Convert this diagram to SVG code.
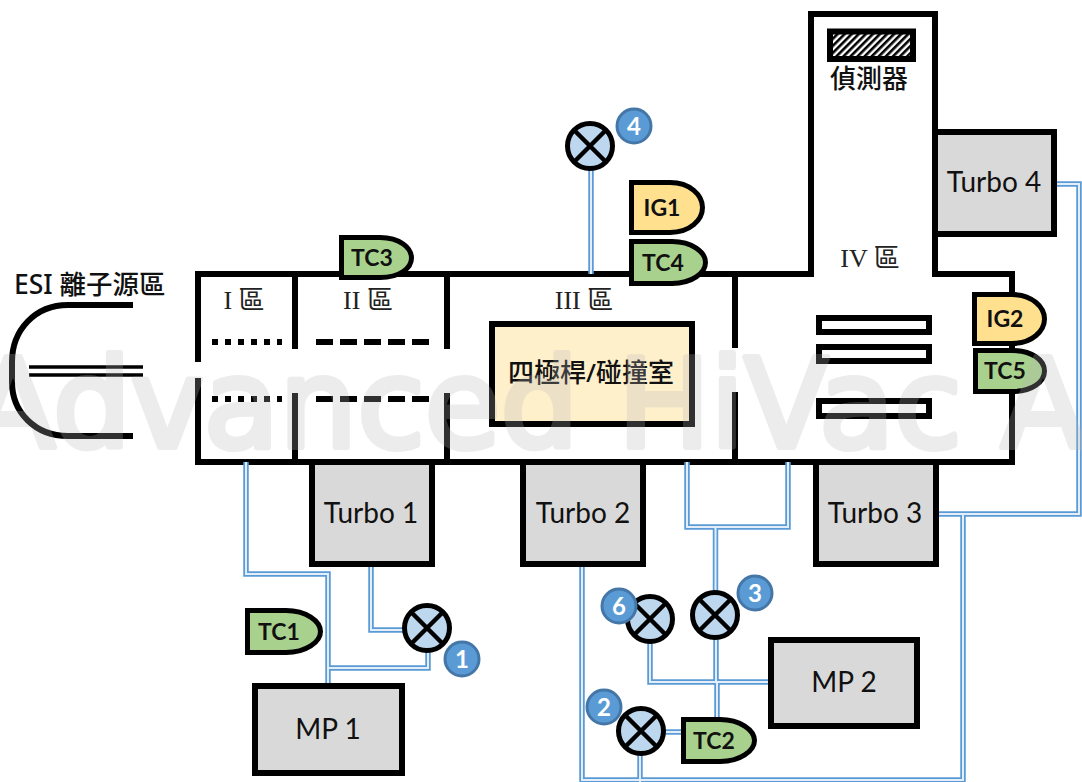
<svg xmlns="http://www.w3.org/2000/svg" width="1082" height="782" viewBox="0 0 1082 782">
<style>
.wall{fill:none;stroke:#000;stroke-width:6;stroke-miterlimit:10}
.box{fill:#d9d9d9;stroke:#000;stroke-width:6}
.plate{fill:#fff;stroke:#000;stroke-width:6}
.pipe-outer{fill:none;stroke:#5b9bd5;stroke-width:5.500}
.pipe-inner{fill:none;stroke:#e4eefa;stroke-width:2}
.lbl{font-family:Lato,"Open Sans",sans-serif;font-size:28px;fill:#111;text-anchor:middle}
.zone{font-family:"Liberation Serif","Noto Sans CJK TC",serif;font-size:26px;fill:#222;text-anchor:middle}
.cjk{font-family:"Noto Sans","Noto Sans CJK TC",sans-serif;fill:#111;font-weight:500}
.gauge{stroke:#000;stroke-width:5}
.tc{fill:#a9d18e}
.ig{fill:#ffe08f}
.gt{font-family:Lato,"Open Sans",sans-serif;font-size:23px;font-weight:700;fill:#111;text-anchor:middle}
.vc{fill:#bdd7ee;stroke:#000;stroke-width:5}
.vx{stroke:#000;stroke-width:4.500}
.bd{fill:#5b9bd5;stroke:#4477a8;stroke-width:3}
.bt{font-family:Lato,"Open Sans",sans-serif;font-size:24px;font-weight:700;fill:#fff;text-anchor:middle}
.wm{font-family:"DejaVu Sans",sans-serif;font-size:123px;fill:#b8b8b8;stroke:#b8b8b8;stroke-width:6;stroke-linejoin:round;opacity:.26}
</style>
<defs>
<pattern id="hatch" width="5" height="5" patternUnits="userSpaceOnUse" patternTransform="rotate(45)">
<rect width="5" height="5" fill="#fff"/><rect width="2.600" height="5" fill="#000"/>
</pattern>
<g id="valve"><circle class="vc" r="22.500"/><path class="vx" d="M-16-16 16 16M-16 16 16-16"/></g>
</defs>
<rect width="1082" height="782" fill="#fff"/>

<g id="esi-source">
<path class="wall" d="M133 305H68C35 305 12 330 12 362V382C12 412 35 436 68 436H133"/>
<path d="M29 367H143M29 375H143" stroke="#000" stroke-width="3.500" fill="none"/>
<text class="cjk" x="14" y="294" font-size="26.500">ESI 離子源區</text>
</g>

<g id="vacuum-chamber">
<path class="wall" d="M198 362V274H811V14H935V274H1012V462H198V378"/>
<path class="wall" d="M295 274V349M295 393V462M447 274V349M447 393V462M735 274V348M735 392V462"/>
<path d="M212 342H282M212 399H282" stroke="#000" stroke-width="6" stroke-dasharray="6 7" fill="none"/>
<path d="M316 342H429M316 399H429" stroke="#000" stroke-width="6" stroke-dasharray="17 7" fill="none"/>
<text class="zone" x="244" y="309">I 區</text>
<text class="zone" x="368" y="309">II 區</text>
<text class="zone" x="584" y="309">III 區</text>
<text class="zone" x="870" y="267">IV 區</text>
</g>

<g id="detector">
<rect x="830" y="31.500" width="83" height="27.500" fill="url(#hatch)" stroke="#000" stroke-width="6"/>
<text class="cjk" x="869" y="88" font-size="26" text-anchor="middle">偵測器</text>
</g>

<g id="ion-plates">
<rect class="plate" x="819" y="318" width="110" height="14"/>
<rect class="plate" x="819" y="347" width="110" height="14"/>
<rect class="plate" x="819" y="401" width="110" height="15"/>
</g>

<g id="quadrupole">
<rect x="492" y="324" width="200" height="100" fill="#fff0cc" stroke="#000" stroke-width="6"/>
<text class="cjk" x="591" y="382" font-size="26" text-anchor="middle">四極桿/碰撞室</text>
</g>

<g id="connectors">
<g class="pipe-outer"><g id="pipes">
<path d="M246 462V574H328V686"/>
<path d="M371 564V630H405"/>
<path d="M428 650V668H328"/>
<path d="M591 168V274"/>
<path d="M687 462V527H788V462"/>
<path d="M715.500 527V594"/>
<path d="M716 636V682H717V720"/>
<path d="M650 640V682H771"/>
<path d="M663 732H684"/>
<path d="M582 564V780H963V514"/>
<path d="M936 514H1079V184H1054"/>
<path d="M640 752V782"/>
</g></g>
<use href="#pipes" class="pipe-inner"/>
</g>

<g id="turbo-1"><rect class="box" x="312" y="462" width="120" height="102"/><text class="lbl" x="371" y="523">Turbo 1</text></g>
<g id="turbo-2"><rect class="box" x="523" y="462" width="120" height="102"/><text class="lbl" x="583" y="523">Turbo 2</text></g>
<g id="turbo-3"><rect class="box" x="816" y="462" width="120" height="102"/><text class="lbl" x="875" y="523">Turbo 3</text></g>
<g id="turbo-4"><rect class="box" x="935" y="132" width="119" height="102"/><text class="lbl" x="994" y="192">Turbo 4</text></g>
<g id="mp-1"><rect class="box" x="255" y="686" width="147" height="87"/><text class="lbl" x="328" y="739">MP 1</text></g>
<g id="mp-2"><rect class="box" x="771" y="640" width="146" height="86"/><text class="lbl" x="844" y="692">MP 2</text></g>

<g id="tc3"><path class="gauge tc" d="M341.500 237.500H380C400 237.500 411.500 248 411.500 258C411.500 268 400 277.500 380 277.500H341.500Z"/><text class="gt" x="372" y="266">TC3</text></g>
<g id="ig1"><path class="gauge ig" d="M631.500 182.500H670C690 182.500 702.500 195 702.500 207.500C702.500 220 690 232.500 670 232.500H631.500Z"/><text class="gt" x="662" y="216">IG1</text></g>
<g id="tc4"><path class="gauge tc" d="M631.500 241.500H672C692 241.500 705.500 252 705.500 262.500C705.500 273 692 283.500 672 283.500H631.500Z"/><text class="gt" x="663" y="271">TC4</text></g>
<g id="ig2"><path class="gauge ig" d="M974.500 294.500H1012C1032 294.500 1044.500 307 1044.500 319C1044.500 331 1032 343.500 1012 343.500H974.500Z"/><text class="gt" x="1005" y="327">IG2</text></g>
<g id="tc5"><path class="gauge tc" d="M975.500 350.500H1012C1032 350.500 1044.500 360 1044.500 371C1044.500 382 1032 391.500 1012 391.500H975.500Z"/><text class="gt" x="1005" y="379">TC5</text></g>
<g id="tc1"><path class="gauge tc" d="M247.500 610.500H286C306 610.500 320.500 621 320.500 631.500C320.500 642 306 652.500 286 652.500H247.500Z"/><text class="gt" x="279" y="640">TC1</text></g>
<g id="tc2"><path class="gauge tc" d="M683.500 719.500H720C740 719.500 754.500 730 754.500 740.500C754.500 751 740 761.500 720 761.500H683.500Z"/><text class="gt" x="714" y="749">TC2</text></g>

<use id="valve-1" href="#valve" x="427" y="628"/>
<use id="valve-4" href="#valve" x="590" y="146"/>
<use id="valve-3" href="#valve" x="715" y="615"/>
<use id="valve-6" href="#valve" x="650" y="619"/>
<use id="valve-2" href="#valve" x="641" y="731"/>

<g id="badge-1"><circle class="bd" cx="462" cy="659" r="17"/><text class="bt" x="462" y="667.500">1</text></g>
<g id="badge-2"><circle class="bd" cx="604" cy="707" r="17"/><text class="bt" x="604" y="715.500">2</text></g>
<g id="badge-3"><circle class="bd" cx="755" cy="593" r="17"/><text class="bt" x="755" y="601.500">3</text></g>
<g id="badge-4"><circle class="bd" cx="634" cy="126" r="17"/><text class="bt" x="634" y="134.500">4</text></g>
<g id="badge-6"><circle class="bd" cx="619" cy="606" r="17"/><text class="bt" x="619" y="614.500">6</text></g>

<text class="wm" x="-29" y="447">Advanced HiVac A</text>
</svg>
